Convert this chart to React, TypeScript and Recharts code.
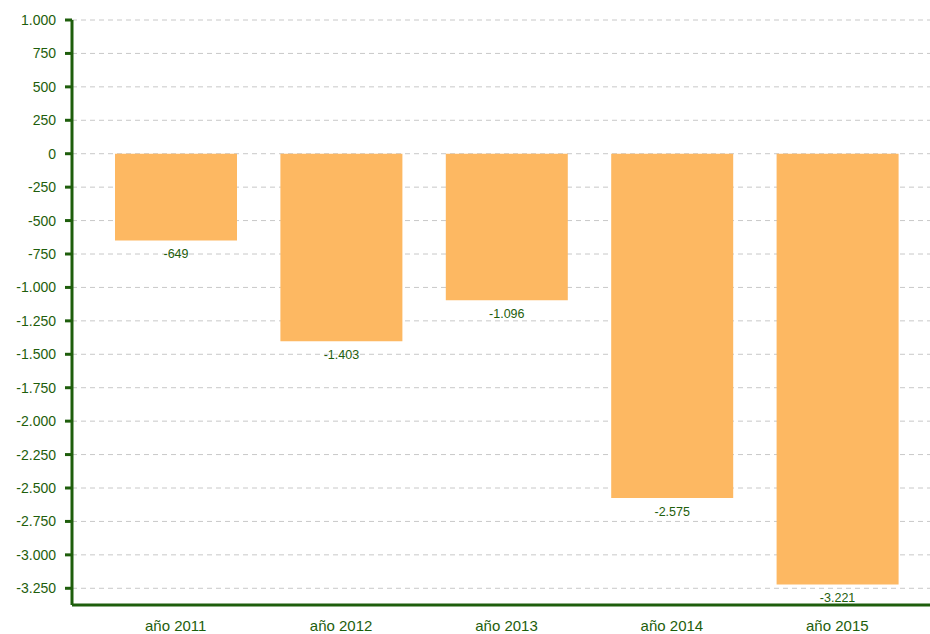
import React from "react";
import {
  BarChart,
  Bar,
  XAxis,
  YAxis,
  CartesianGrid,
  LabelList,
} from "recharts";

// Data
const years = ["año 2011", "año 2012", "año 2013", "año 2014", "año 2015"];
const values = [-649, -1403, -1096, -2575, -3221];
const yTicks = [
  1000, 750, 500, 250, 0, -250, -500, -750, -1000, -1250, -1500, -1750,
  -2000, -2250, -2500, -2750, -3000, -3250,
];

const GREEN = "#1e5e0c";
const BAR = "#fdb862";

// spanish style thousands separator
const fmt = (v: number) => {
  const s = Math.abs(v)
    .toFixed(0)
    .replace(/\B(?=(\d{3})+(?!\d))/g, ".");
  return (v < 0 ? "-" : "") + s;
};

// value label just under the end of the (negative) bar
const renderValue = (props: any) => {
  const { x, y, width, height, value } = props;
  const bottom = Math.max(Number(y), Number(y) + Number(height));
  return (
    <text
      x={Number(x) + Number(width) / 2}
      y={bottom + 14}
      textAnchor="middle"
      dominantBaseline="central"
      fill={GREEN}
      fontSize={12.5}
    >
      {fmt(Number(value))}
    </text>
  );
};

export default function App() {
  const data = years.map((year, i) => ({ year, value: values[i] }));

  return (
    <div style={{ position: "absolute", left: 0, top: 0 }}>
      <style>{`body{margin:0}`}</style>
      <BarChart
        width={930}
        height={634}
        data={data}
        margin={{ top: 20, right: 0, bottom: -1, left: 0 }}
        style={{ fontFamily: "'Liberation Sans', Arial, sans-serif" }}
      >
        <CartesianGrid
          vertical={false}
          stroke="#c8c8c8"
          strokeDasharray="5 4"
        />
        <XAxis
          dataKey="year"
          padding={{ left: 21, right: 10 }}
          axisLine={{ stroke: GREEN, strokeWidth: 3 }}
          tickLine={false}
          tickMargin={9}
          height={30}
          tick={{ fill: GREEN, fontSize: 15 }}
        />
        <YAxis
          width={72}
          domain={[-3375, 1000]}
          ticks={yTicks}
          interval={0}
          tickFormatter={fmt}
          axisLine={{ stroke: GREEN, strokeWidth: 3 }}
          tickLine={{ stroke: GREEN, strokeWidth: 3 }}
          tickSize={7}
          tickMargin={9}
          tick={{ fill: GREEN, fontSize: 14 }}
          allowDataOverflow
        />
        <Bar dataKey="value" fill={BAR} barSize={122} isAnimationActive={false}>
          <LabelList dataKey="value" content={renderValue} />
        </Bar>
      </BarChart>
    </div>
  );
}
